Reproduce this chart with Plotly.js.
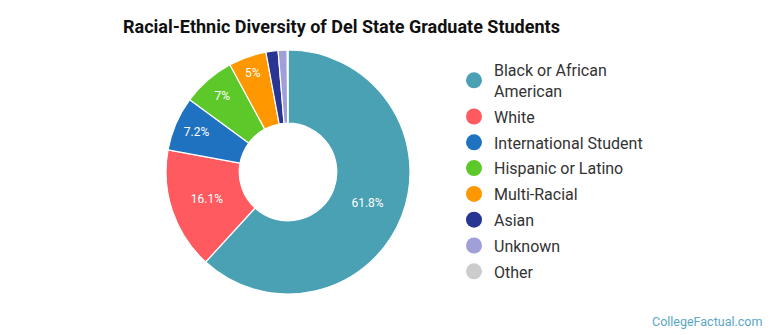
<!DOCTYPE html>
<html><head><meta charset="utf-8">
<script src="https://cdn.plot.ly/plotly-3.0.1.min.js"></script>
<style>body{margin:0;padding:0;background:#fff}#chart{width:770px;height:335px}</style>
</head><body><div id="chart"></div>
<script>
const categories = ["Black or African American","White","International Student","Hispanic or Latino","Multi-Racial","Asian","Unknown","Other"];
const legendLabels = ["Black or African<br>American","White","International Student","Hispanic or Latino","Multi-Racial","Asian","Unknown","Other"];
const values = [61.8, 16.1, 7.2, 7.0, 5.0, 1.6, 1.2, 0.1];
const sliceText = ["61.8%","16.1%","7.2%","7%","5%","","",""];
const colors = ["#4AA1B4","#FF5A5F","#1F72BF","#5CC82A","#FF9700","#283593","#A09FD8","#CCCCCC"];

const traces = [{
  type: "pie",
  labels: categories,
  values: values,
  text: sliceText,
  textinfo: "text",
  textposition: "inside",
  insidetextorientation: "horizontal",
  textfont: {family: "Roboto", size: 12, color: "#ffffff"},
  hole: 0.4,
  sort: false,
  direction: "clockwise",
  rotation: 0,
  marker: {colors: colors, line: {color: "#ffffff", width: 1.2}},
  showlegend: false,
  domain: {x: [0.2156, 0.5325], y: [0.1224, 0.8507]}
}];
categories.forEach((c, i) => {
  traces.push({
    type: "scatter", mode: "markers", x: [null], y: [null],
    name: legendLabels[i], legendgroup: "g" + i,
    marker: {color: colors[i], size: 17, symbol: "circle"},
    hoverinfo: "skip", showlegend: true
  });
});

const layout = {
  width: 770, height: 335,
  margin: {l: 0, r: 0, t: 0, b: 0},
  paper_bgcolor: "#ffffff", plot_bgcolor: "#ffffff",
  title: {text: "<b>Racial-Ethnic Diversity of Del State Graduate Students</b>",
    font: {family: "Roboto", size: 18, color: "#111111"},
    x: 123/770, xanchor: "left", y: 1 - 27/335, yanchor: "middle"},
  xaxis: {visible: false, domain: [0.6, 0.61]},
  yaxis: {visible: false, domain: [0.6, 0.61]},
  legend: {x: 454/770, xanchor: "left", y: 1 - 53/335, yanchor: "top",
    font: {family: "Roboto", size: 16, color: "#333333"},
    tracegroupgap: 2, itemwidth: 30, bgcolor: "rgba(0,0,0,0)"},
  annotations: [{text: "CollegeFactual.com", showarrow: false,
    x: 764/770, xanchor: "right", y: 1 - 321/335, yanchor: "middle",
    xref: "paper", yref: "paper",
    font: {family: "Roboto", size: 12.5, color: "#5AA8C4"}}]
};
Plotly.newPlot("chart", traces, layout, {displayModeBar: false, staticPlot: true});
</script></body></html>
